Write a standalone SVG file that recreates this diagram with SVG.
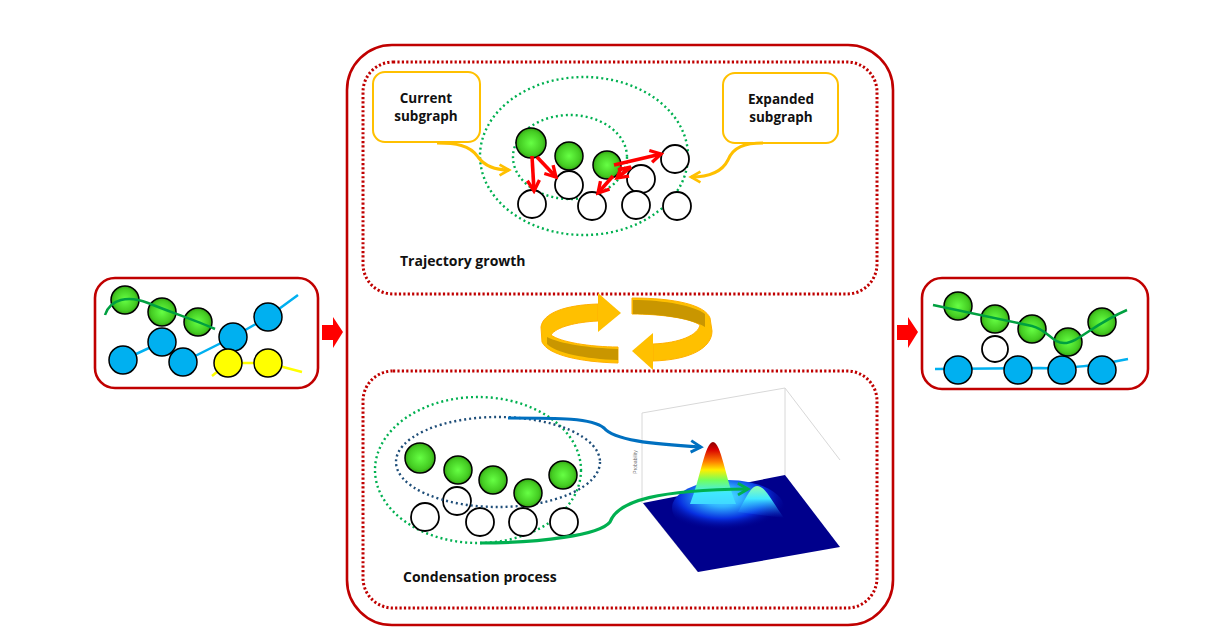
<svg xmlns="http://www.w3.org/2000/svg" width="1214" height="634" viewBox="0 0 1214 634">
<defs>
<style>
.frame{fill:none;stroke:#c00000;stroke-width:2.6}
.dotred{fill:none;stroke:#c00000;stroke-width:3;stroke-dasharray:2.2 2.2}
.dotgreen{fill:none;stroke:#00b050;stroke-width:2.4;stroke-dasharray:2 3}
.dotblue{fill:none;stroke:#1f4e79;stroke-width:2.4;stroke-dasharray:2 3}
.gn{fill:url(#gGreen);stroke:#000;stroke-width:1.5}
.bn{fill:#00b0f0;stroke:#000;stroke-width:1.5}
.yn{fill:#ffff00;stroke:#000;stroke-width:1.5}
.wn{fill:#fff;stroke:#000;stroke-width:1.8}
.lbl{font-family:"Open Sans","Liberation Sans",sans-serif;font-weight:bold;font-size:13.5px;fill:#111;text-anchor:middle}
.title{font-family:"Open Sans","Liberation Sans",sans-serif;font-weight:bold;font-size:14px;fill:#111}
.call{fill:#fff;stroke:#ffc000;stroke-width:2}
.ora{fill:none;stroke:#ffc000;stroke-width:3;marker-end:url(#mOra)}
.red{fill:none;stroke:#ff0000;stroke-width:3.6;marker-end:url(#mRed)}
.grid{fill:none;stroke:#d8d8d8;stroke-width:1}
</style>
<radialGradient id="gGreen" cx="0.5" cy="0.5" r="0.55">
<stop offset="0" stop-color="#66ff44"/>
<stop offset="0.7" stop-color="#44cc22"/>
<stop offset="1" stop-color="#2f8f10"/>
</radialGradient>
<linearGradient id="gPeak" x1="0" y1="0" x2="0" y2="1">
<stop offset="0" stop-color="#8b0000"/>
<stop offset="0.12" stop-color="#d80000"/>
<stop offset="0.32" stop-color="#ff8000"/>
<stop offset="0.45" stop-color="#ffee00"/>
<stop offset="0.62" stop-color="#70ff60"/>
<stop offset="0.82" stop-color="#40e8ff"/>
<stop offset="1" stop-color="#40d8ff"/>
</linearGradient>
<radialGradient id="gGlow" cx="0.45" cy="0.3" r="0.6">
<stop offset="0" stop-color="#50f0ff"/>
<stop offset="0.3" stop-color="#30b0ff"/>
<stop offset="0.65" stop-color="#0830e0"/>
<stop offset="1" stop-color="#00008c" stop-opacity="0"/>
</radialGradient>
<linearGradient id="gPeak2" x1="0" y1="0" x2="0" y2="1">
<stop offset="0" stop-color="#90ffb0"/>
<stop offset="0.4" stop-color="#40e8ff"/>
<stop offset="1" stop-color="#1060ff" stop-opacity="0"/>
</linearGradient>
<marker id="mRed" viewBox="0 0 10 10" refX="8" refY="5" markerWidth="4.2" markerHeight="4.2" orient="auto" markerUnits="strokeWidth">
<path d="M1,1 L8,5 L1,9" fill="none" stroke="#ff0000" stroke-width="2.2"/>
</marker>
<marker id="mOra" viewBox="0 0 10 10" refX="8" refY="5" markerWidth="4.5" markerHeight="4.5" orient="auto" markerUnits="strokeWidth">
<path d="M1,1 L8,5 L1,9" fill="none" stroke="#ffc000" stroke-width="2"/>
</marker>
<marker id="mBlue" viewBox="0 0 10 10" refX="8" refY="5" markerWidth="4.5" markerHeight="4.5" orient="auto" markerUnits="strokeWidth">
<path d="M1,1 L8,5 L1,9" fill="none" stroke="#0070c0" stroke-width="2"/>
</marker>
<marker id="mGreen" viewBox="0 0 10 10" refX="8" refY="5" markerWidth="4.5" markerHeight="4.5" orient="auto" markerUnits="strokeWidth">
<path d="M1,1 L8,5 L1,9" fill="none" stroke="#00b050" stroke-width="2"/>
</marker>
</defs>
<rect width="1214" height="634" fill="#fff"/>

<g id="main-frame">
<rect class="frame" x="347" y="45" width="546" height="580" rx="45"/>
</g>
<g id="trajectory-panel">
<rect class="dotred" x="363" y="62" width="514" height="232" rx="30"/>
<text class="title" x="400" y="266">Trajectory growth</text>
</g>
<g id="condensation-panel">
<rect class="dotred" x="363" y="371" width="514" height="237" rx="30"/>
<text class="title" x="403" y="582">Condensation process</text>
</g>

<g id="input-graph">
<rect class="frame" x="95" y="278" width="223" height="110" rx="20"/>
<path d="M123,360 L162,342 L183,362 L233,337 L268,317 L298,295" fill="none" stroke="#00b0f0" stroke-width="2.5"/>
<circle class="bn" cx="123" cy="360" r="14"/>
<circle class="bn" cx="162" cy="342" r="14"/>
<circle class="bn" cx="183" cy="362" r="14"/>
<circle class="bn" cx="233" cy="337" r="14"/>
<circle class="bn" cx="268" cy="317" r="14"/>
<path d="M212,376 L228,363 L268,363 L302,372" fill="none" stroke="#ffff00" stroke-width="2.5"/>
<circle class="yn" cx="228" cy="363" r="14"/>
<circle class="yn" cx="268" cy="363" r="14"/>
<circle class="gn" cx="125" cy="300" r="14"/>
<circle class="gn" cx="162" cy="312" r="14"/>
<circle class="gn" cx="198" cy="322" r="14"/>
<path d="M105,315 C110,299 128,295 148,303 C170,312 195,320 215,329" fill="none" stroke="#00a040" stroke-width="2.5"/>
</g>

<g id="output-graph">
<rect class="frame" x="922" y="278" width="226" height="111" rx="20"/>
<circle class="wn" cx="995" cy="349" r="13"/>
<path d="M935,369 L1040,368 C1070,369 1100,365 1128,359" fill="none" stroke="#00b0f0" stroke-width="2.5"/>
<circle class="bn" cx="958" cy="370" r="14"/>
<circle class="bn" cx="1018" cy="370" r="14"/>
<circle class="bn" cx="1062" cy="370" r="14"/>
<circle class="bn" cx="1102" cy="370" r="14"/>
<circle class="gn" cx="958" cy="306" r="14"/>
<circle class="gn" cx="995" cy="319" r="14"/>
<circle class="gn" cx="1032" cy="329" r="14"/>
<circle class="gn" cx="1068" cy="342" r="14"/>
<circle class="gn" cx="1102" cy="322" r="14"/>
<path d="M933,305 L1032,326 C1048,330 1052,343 1064,343 C1078,343 1092,325 1127,310" fill="none" stroke="#00a040" stroke-width="2.5"/>
</g>

<g id="current-subgraph-label">
<rect class="call" x="373" y="72" width="107" height="70" rx="12"/>
<text class="lbl" x="426" y="103">Current</text>
<text class="lbl" x="426" y="121">subgraph</text>
</g>
<g id="expanded-subgraph-label">
<rect class="call" x="723" y="73" width="115" height="70" rx="12"/>
<text class="lbl" x="781" y="104">Expanded</text>
<text class="lbl" x="781" y="122">subgraph</text>
</g>
<g id="trajectory-graph">
<ellipse class="dotgreen" cx="584" cy="156" rx="104" ry="79"/>
<ellipse class="dotgreen" cx="570" cy="157" rx="57" ry="42"/>
<circle class="wn" cx="569" cy="185" r="14"/>
<circle class="wn" cx="532" cy="204" r="14"/>
<circle class="wn" cx="592" cy="206" r="14"/>
<circle class="wn" cx="641" cy="179" r="14"/>
<circle class="wn" cx="675" cy="159" r="14"/>
<circle class="wn" cx="636" cy="205" r="14"/>
<circle class="wn" cx="677" cy="206" r="14"/>
<circle class="gn" cx="531" cy="143" r="15"/>
<circle class="gn" cx="569" cy="156" r="14"/>
<circle class="gn" cx="607" cy="165" r="14"/>
</g>

<g id="condensation-graph">
<ellipse class="dotgreen" cx="478" cy="470" rx="103" ry="73"/>
<circle class="wn" cx="457" cy="501" r="14"/>
<circle class="wn" cx="425" cy="517" r="14"/>
<circle class="wn" cx="480" cy="522" r="14"/>
<circle class="wn" cx="523" cy="522" r="14"/>
<circle class="wn" cx="564" cy="522" r="14"/>
<ellipse class="dotblue" cx="498" cy="462" rx="102" ry="45"/>
<circle class="gn" cx="420" cy="458" r="15"/>
<circle class="gn" cx="458" cy="470" r="14"/>
<circle class="gn" cx="493" cy="480" r="14"/>
<circle class="gn" cx="528" cy="493" r="14"/>
<circle class="gn" cx="563" cy="475" r="14"/>
</g>

<g id="probability-plot">
<path class="grid" d="M642,503 L642,413 L785,388 L785,475 M785,388 L840,460 M643,503 L698,572"/>
<polygon points="643,503 785,475 840,547 698,572" fill="#00008c"/>
<ellipse cx="728" cy="508" rx="56" ry="28" fill="url(#gGlow)"/>
<path d="M738,512 C747,496 751,486 757,486 C765,486 771,500 784,518 Z" fill="url(#gPeak2)"/>
<path d="M690,504 C700,480 705,442 713,442 C721,442 726,480 736,504 Z" fill="url(#gPeak)"/>
<text x="637" y="462" transform="rotate(-90 637 462)" font-family="Liberation Sans, sans-serif" font-size="5" fill="#777" text-anchor="middle">Probability</text>
</g>

<g id="cycle-arrows">
<path d="M598,304 C565,305 543,313 541,327 L542,342 C548,355 580,362 618,363 L618,347 C590,347 560,342 551,335 C556,327 576,322 598,321 Z" fill="#ffc000" stroke="#ffb000" stroke-width="1"/>
<polygon points="598,293 621,313 598,332" fill="#ffc000"/>
<path d="M547,337 C560,344 590,348 618,349 L618,360 C585,359 556,353 547,344 Z" fill="#c99600"/>
<path d="M653,361 C690,360 712,348 712,331 L710,318 C705,305 675,298 632,298 L632,314 C660,314 690,318 700,325 C698,335 680,343 653,344 Z" fill="#ffc000" stroke="#ffb000" stroke-width="1"/>
<polygon points="653,333 632,351 653,370" fill="#ffc000"/>
<path d="M633,300 C665,300 695,306 705,314 L705,327 C690,318 660,314 633,314 Z" fill="#c99600"/>
</g>

<g id="connectors">
<polygon points="322,325 333,325 333,317 343,332 333,348 333,340 322,340" fill="#ff0000"/>
<polygon points="897,325 908,325 908,317 918,332 908,348 908,340 897,340" fill="#ff0000"/>
<path class="ora" d="M437,143 C455,143 470,145 478,157 C486,168 498,170 509,170"/>
<path class="ora" d="M763,143 C745,143 733,147 728,160 C722,172 708,177 691,177"/>
<path class="red" d="M532,156 L534,191"/>
<path class="red" d="M537,157 L556,177"/>
<path class="red" d="M613,176 L598,193"/>
<path class="red" d="M614,165 L661,154"/>
<path class="red" d="M618,170 L631,167 L617,178"/>
<path d="M508,418 C560,418 592,418 604,428 C614,440 650,444 701,447" fill="none" stroke="#0070c0" stroke-width="3.2" marker-end="url(#mBlue)"/>
<path d="M480,543 C540,543 600,535 610,522 C618,500 660,490 748,489" fill="none" stroke="#00b050" stroke-width="3.2" marker-end="url(#mGreen)"/>
</g>
</svg>
